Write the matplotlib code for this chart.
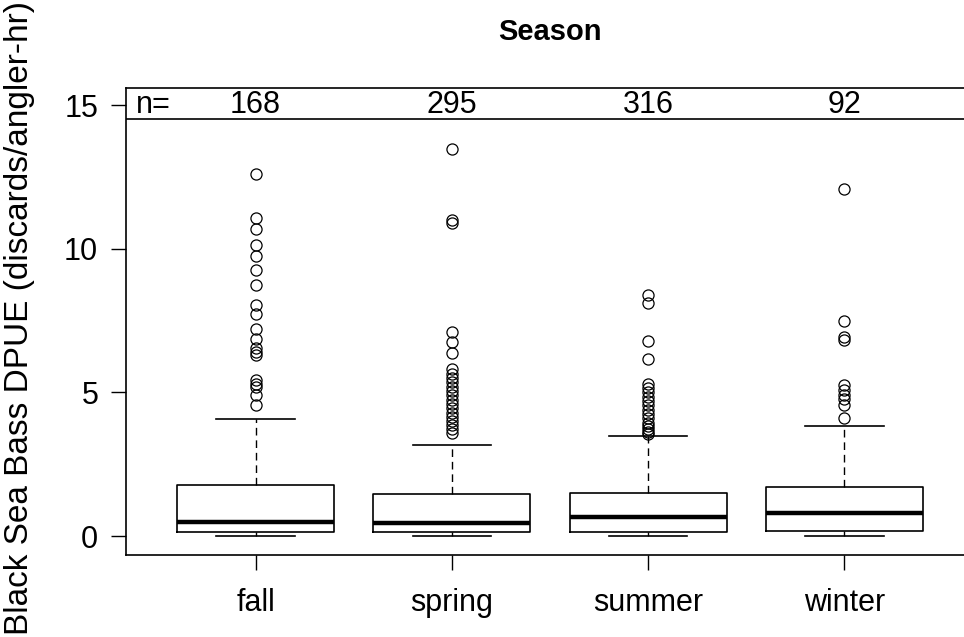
import matplotlib
matplotlib.use("Agg")
import matplotlib.pyplot as plt

plt.rcParams["font.family"] = ["Liberation Sans", "DejaVu Sans"]

# Seasonal discard rates of black sea bass
seasons = ["fall", "spring", "summer", "winter"]
n_obs = [168, 295, 316, 92]
q1 = [0.14, 0.14, 0.14, 0.17]
medians = [0.49, 0.45, 0.66, 0.80]
q3 = [1.78, 1.46, 1.50, 1.71]
whisker_lo = [0.0, 0.0, 0.0, 0.0]
whisker_hi = [4.07, 3.17, 3.48, 3.83]

outliers_fall = [12.61, 11.09, 10.69, 10.15, 9.75, 9.25, 8.73, 8.05, 7.72,
                 7.20, 6.85, 6.53, 6.41, 6.30, 5.43, 5.31, 5.20, 4.91, 4.55]
outliers_spring = [13.47, 11.02, 10.90, 7.09, 6.75, 6.39, 5.83, 5.65, 5.50,
                   5.35, 5.20, 5.05, 4.90, 4.75, 4.60, 4.45, 4.30, 4.15,
                   4.00, 3.85, 3.72, 3.60]
outliers_summer = [8.39, 8.10, 6.80, 6.15, 5.30, 5.15, 5.00, 4.85, 4.70,
                   4.55, 4.40, 4.25, 4.10, 3.95, 3.82, 3.72, 3.64, 3.57]
outliers_winter = [12.07, 7.47, 6.94, 6.82, 5.26, 5.08, 4.91, 4.76, 4.58,
                   4.12]

outliers = [outliers_fall, outliers_spring, outliers_summer, outliers_winter]

stats = []
for i, name in enumerate(seasons):
    stats.append(dict(label=name, med=medians[i], q1=q1[i], q3=q3[i],
                      whislo=whisker_lo[i], whishi=whisker_hi[i],
                      fliers=outliers[i]))

fig = plt.figure(figsize=(9.64, 6.37), dpi=100)
ax = fig.add_axes([126 / 964, 82 / 637, 848 / 964, 467 / 637])

positions = list(range(1, len(seasons) + 1))
ax.bxp(stats, positions=positions, widths=0.8, capwidths=0.4,
       boxprops=dict(color="black", linewidth=1.2),
       medianprops=dict(color="black", linewidth=3.2, solid_capstyle="butt"),
       whiskerprops=dict(color="black", linewidth=1.0,
                         linestyle=(0, (5.5, 3.5))),
       capprops=dict(color="black", linewidth=1.2),
       flierprops=dict(marker="o", markerfacecolor="none",
                       markeredgecolor="black", markersize=8,
                       markeredgewidth=0.9))

ax.set_xlim(0.34, 4.66)
ax.set_ylim(-0.66, 15.6)

# band with group sizes along the top
band_y = 14.51
ax.axhline(band_y, color="black", linewidth=1.2)
ax.text(0.39, 15.0, "n=", ha="left", va="center", fontsize=22)
for pos, n in zip(positions, n_obs):
    ax.text(pos, 15.0, str(n), ha="center", va="center", fontsize=22)

ax.set_xticks(positions)
ax.set_xticklabels(seasons, fontsize=22)
ax.set_yticks([0, 5, 10, 15])
ax.set_yticklabels(["0", "5", "10", "15"], fontsize=22)
ax.tick_params(axis="both", length=11, width=1.0, color="black")
ax.tick_params(axis="x", pad=13)
ax.tick_params(axis="y", pad=9)

for sp in ax.spines.values():
    sp.set_linewidth(1.2)
    sp.set_color("black")

fig.text(550 / 964, 1 - 32 / 637, "Season", ha="center", va="center",
         fontsize=21, fontweight="bold")
fig.text(20 / 964, 1 - 318 / 637, "Black Sea Bass DPUE (discards/angler-hr)",
         rotation=90, ha="center", va="center", fontsize=24)

fig.savefig("out.png", dpi=100)
